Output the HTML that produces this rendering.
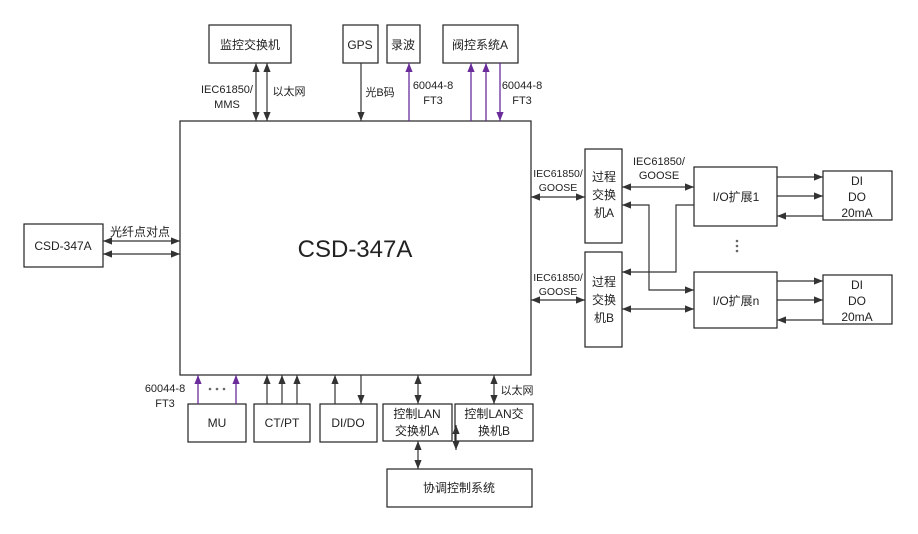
<!DOCTYPE html>
<html><head><meta charset="utf-8"><style>
html,body{margin:0;padding:0;background:#fff;}
svg{display:block;}
text{font-family:"Liberation Sans","Noto Sans CJK SC",sans-serif;fill:#222;}
</style></head><body>
<svg width="918" height="534" viewBox="0 0 918 534" xmlns="http://www.w3.org/2000/svg">
<defs>
<marker id="a" viewBox="0 0 10 10" refX="10" refY="5" markerWidth="9" markerHeight="9" markerUnits="userSpaceOnUse" orient="auto-start-reverse"><path d="M0,1 L10,5 L0,9 z" fill="#333"/></marker>
<marker id="p" viewBox="0 0 10 10" refX="10" refY="5" markerWidth="9" markerHeight="9" markerUnits="userSpaceOnUse" orient="auto-start-reverse"><path d="M0,1 L10,5 L0,9 z" fill="#6a2c9a"/></marker>
</defs>
<g fill="none" stroke="#222" stroke-width="1.2">
<rect x="180" y="121" width="351" height="254"/>
<rect x="209" y="25" width="82" height="38"/>
<rect x="343" y="25" width="35" height="38"/>
<rect x="387" y="25" width="33" height="38"/>
<rect x="443" y="25" width="75" height="38"/>
<rect x="24" y="224" width="79" height="43"/>
<rect x="585" y="149" width="37" height="94"/>
<rect x="585" y="252" width="37" height="95"/>
<rect x="694" y="167" width="83" height="59"/>
<rect x="694" y="272" width="83" height="56"/>
<rect x="823" y="171" width="69" height="49"/>
<rect x="823" y="275" width="69" height="49"/>
<rect x="188" y="404" width="58" height="38"/>
<rect x="254" y="404" width="56" height="38"/>
<rect x="320" y="404" width="57" height="38"/>
<rect x="383" y="404" width="69" height="37"/>
<rect x="455" y="404" width="78" height="37"/>
<rect x="387" y="469" width="145" height="38"/>
</g>
<g stroke="#333" stroke-width="1.2" fill="none">
<line x1="256" y1="63" x2="256" y2="121" marker-start="url(#a)" marker-end="url(#a)"/>
<line x1="267" y1="63" x2="267" y2="121" marker-start="url(#a)" marker-end="url(#a)"/>
<line x1="361" y1="63" x2="361" y2="121" marker-end="url(#a)"/>
<line x1="103" y1="241" x2="180" y2="241" marker-start="url(#a)" marker-end="url(#a)"/>
<line x1="103" y1="254" x2="180" y2="254" marker-start="url(#a)" marker-end="url(#a)"/>
<line x1="531" y1="197" x2="585" y2="197" marker-start="url(#a)" marker-end="url(#a)"/>
<line x1="531" y1="300" x2="585" y2="300" marker-start="url(#a)" marker-end="url(#a)"/>
<line x1="622" y1="187" x2="694" y2="187" marker-start="url(#a)" marker-end="url(#a)"/>
<line x1="622" y1="309" x2="694" y2="309" marker-start="url(#a)" marker-end="url(#a)"/>
<polyline points="694,290 649,290 649,205 622,205" marker-start="url(#a)" marker-end="url(#a)"/>
<polyline points="694,205 676,205 676,272 622,272" marker-end="url(#a)"/>
<line x1="777" y1="177" x2="823" y2="177" marker-end="url(#a)"/>
<line x1="777" y1="196" x2="823" y2="196" marker-end="url(#a)"/>
<line x1="823" y1="216" x2="777" y2="216" marker-end="url(#a)"/>
<line x1="777" y1="281" x2="823" y2="281" marker-end="url(#a)"/>
<line x1="777" y1="300" x2="823" y2="300" marker-end="url(#a)"/>
<line x1="823" y1="320" x2="777" y2="320" marker-end="url(#a)"/>
<line x1="267" y1="404" x2="267" y2="375" marker-end="url(#a)"/>
<line x1="282" y1="404" x2="282" y2="375" marker-end="url(#a)"/>
<line x1="297" y1="404" x2="297" y2="375" marker-end="url(#a)"/>
<line x1="335" y1="404" x2="335" y2="375" marker-end="url(#a)"/>
<line x1="361" y1="375" x2="361" y2="404" marker-end="url(#a)"/>
<line x1="418" y1="375" x2="418" y2="404" marker-start="url(#a)" marker-end="url(#a)"/>
<line x1="494" y1="375" x2="494" y2="404" marker-start="url(#a)" marker-end="url(#a)"/>
<line x1="418" y1="441" x2="418" y2="469" marker-start="url(#a)" marker-end="url(#a)"/>
<line x1="456" y1="425" x2="456" y2="450" marker-start="url(#a)" marker-end="url(#a)"/>
</g>
<g stroke="#6a2c9a" stroke-width="1.3" fill="none">
<line x1="409" y1="121" x2="409" y2="63" marker-end="url(#p)"/>
<line x1="471" y1="121" x2="471" y2="63" marker-end="url(#p)"/>
<line x1="486" y1="121" x2="486" y2="63" marker-end="url(#p)"/>
<line x1="500" y1="63" x2="500" y2="121" marker-end="url(#p)"/>
<line x1="198" y1="404" x2="198" y2="375" marker-end="url(#p)"/>
<line x1="236" y1="404" x2="236" y2="375" marker-end="url(#p)"/>
</g>
<g fill="#666">
<circle cx="737" cy="241" r="1.3"/><circle cx="737" cy="246" r="1.3"/><circle cx="737" cy="251" r="1.3"/>
<circle cx="210" cy="389" r="1.3"/><circle cx="217" cy="389" r="1.3"/><circle cx="224" cy="389" r="1.3"/>
</g>
<g font-size="12" text-anchor="middle">
<text x="250" y="49">监控交换机</text>
<text x="360" y="49">GPS</text>
<text x="403" y="49">录波</text>
<text x="480" y="49">阀控系统A</text>
<text x="227" y="93" font-size="11">IEC61850/</text>
<text x="227" y="108" font-size="11">MMS</text>
<text x="289" y="95" font-size="11">以太网</text>
<text x="380" y="96" font-size="11">光B码</text>
<text x="433" y="89" font-size="11">60044-8</text>
<text x="433" y="104" font-size="11">FT3</text>
<text x="522" y="89" font-size="11">60044-8</text>
<text x="522" y="104" font-size="11">FT3</text>
<text x="63" y="250">CSD-347A</text>
<text x="140" y="236">光纤点对点</text>
<text x="355" y="257" font-size="24">CSD-347A</text>
<text x="558" y="177" font-size="10.5">IEC61850/</text>
<text x="558" y="191" font-size="10.5">GOOSE</text>
<text x="558" y="281" font-size="10.5">IEC61850/</text>
<text x="558" y="295" font-size="10.5">GOOSE</text>
<text x="659" y="165" font-size="11">IEC61850/</text>
<text x="659" y="179" font-size="11">GOOSE</text>
<text x="604" y="181">过程</text>
<text x="604" y="199">交换</text>
<text x="604" y="217">机A</text>
<text x="604" y="286">过程</text>
<text x="604" y="304">交换</text>
<text x="604" y="322">机B</text>
<text x="736" y="201">I/O扩展1</text>
<text x="736" y="305">I/O扩展n</text>
<text x="857" y="185">DI</text>
<text x="857" y="201">DO</text>
<text x="857" y="217">20mA</text>
<text x="857" y="289">DI</text>
<text x="857" y="305">DO</text>
<text x="857" y="321">20mA</text>
<text x="165" y="392" font-size="11">60044-8</text>
<text x="165" y="407" font-size="11">FT3</text>
<text x="217" y="427">MU</text>
<text x="282" y="427">CT/PT</text>
<text x="348" y="427">DI/DO</text>
<text x="417" y="418">控制LAN</text>
<text x="417" y="435">交换机A</text>
<text x="494" y="418">控制LAN交</text>
<text x="494" y="435">换机B</text>
<text x="517" y="394" font-size="11">以太网</text>
<text x="459" y="492">协调控制系统</text>
</g>
</svg>
</body></html>
